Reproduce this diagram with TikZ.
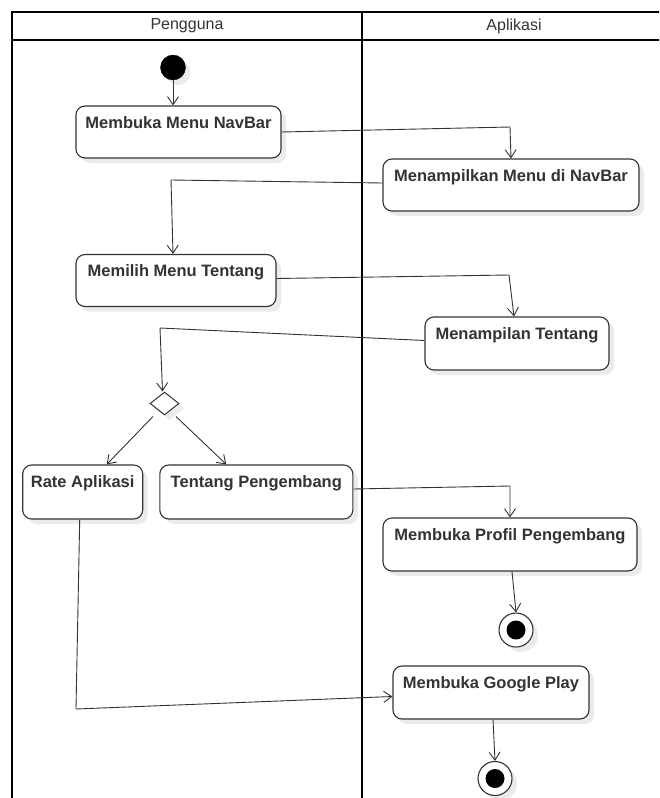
\documentclass[tikz,border=0pt]{standalone}
\usepackage{fontspec}
\setmainfont{Liberation Sans}
\usetikzlibrary{arrows.meta,shapes.geometric,shadows}
\definecolor{ink}{HTML}{333333}
\definecolor{shade}{HTML}{EBEBEB}
\begin{document}
\begin{tikzpicture}[x=1pt,y=-1pt,
  shd/.style={drop shadow={shadow xshift=5pt,shadow yshift=-5pt,fill=shade,opacity=1}},
  act/.style={draw=ink,line width=1.1pt,rounded corners=9pt,fill=white,shd,inner sep=0pt},
  lbl/.style={font=\bfseries\fontsize{16.5}{18}\selectfont,text=ink,anchor=base,inner sep=0pt},
  head/.style={font=\fontsize{16}{18}\selectfont,text=ink},
  flow/.style={draw=ink,line width=0.9pt,-{Straight Barb[length=8pt,width=11pt,line width=0.9pt]}},
  lane/.style={draw=black,line width=2.5pt},
  initst/.style={circle,fill=black,draw=black,minimum size=25pt,inner sep=0pt,shd},
  finst/.style={circle,fill=white,draw=ink,line width=1.1pt,minimum size=34pt,inner sep=0pt,shd},
  decis/.style={diamond,draw=ink,line width=1pt,fill=white,minimum width=29pt,minimum height=23pt,inner sep=0pt,shd},
]
\useasboundingbox (0,0) rectangle (659,798);
\clip (0,0) rectangle (659,798);
% swimlanes
\draw[lane] (12,805) -- (12,12) -- (670,12);
\draw[lane] (12,40) -- (670,40);
\draw[lane] (362,12) -- (362,805);
\node[head] (h1) at (187,26) {Pengguna};
\node[head] (h2) at (514,26) {Aplikasi};

% nodes
\node[initst] (start) at (173,67.5) {};
\node[act,minimum width=205pt,minimum height=52pt] (nav) at (178.5,132) {};
\node[lbl] (nav-t) at ([yshift=-23pt]nav.north) {Membuka Menu NavBar};
\node[act,minimum width=256pt,minimum height=52pt] (menu) at (511,185) {};
\node[lbl] (menu-t) at ([yshift=-23pt]menu.north) {Menampilkan Menu di NavBar};
\node[act,minimum width=200pt,minimum height=52pt] (pilih) at (176,280.5) {};
\node[lbl] (pilih-t) at ([yshift=-23pt]pilih.north) {Memilih Menu Tentang};
\node[act,minimum width=184pt,minimum height=53pt] (tampil) at (517,343.5) {};
\node[lbl] (tampil-t) at ([yshift=-23pt]tampil.north) {Menampilan Tentang};
\node[decis] (dia) at (164.5,403.5) {};
\node[act,minimum width=120pt,minimum height=54pt] (rate) at (82.7,492) {};
\node[lbl] (rate-t) at ([yshift=-23pt]rate.north) {Rate Aplikasi};
\node[act,minimum width=193pt,minimum height=54pt] (tentang) at (256.3,492) {};
\node[lbl] (tentang-t) at ([yshift=-23pt]tentang.north) {Tentang Pengembang};
\node[act,minimum width=254pt,minimum height=53pt] (profil) at (510,544.5) {};
\node[lbl] (profil-t) at ([yshift=-23pt]profil.north) {Membuka Profil Pengembang};
\node[finst] (end1) at (516,630) {};
\fill[black] (end1.center) circle[radius=9.5pt];
\node[act,minimum width=196pt,minimum height=53pt] (google) at (491,692.5) {};
\node[lbl] (google-t) at ([yshift=-23pt]google.north) {Membuka Google Play};
\node[finst] (end2) at (495,778.5) {};
\fill[black] (end2.center) circle[radius=9.5pt];

% bend points
\coordinate (c1) at (510,127);
\coordinate (c2) at (171,180);
\coordinate (c3) at (509,275);
\coordinate (c4) at (160,328);
\coordinate (c5) at (510,486);
\coordinate (c6) at (76,709);

% connectors
\draw[flow] (start.south) -- (start.south |- nav.north);
\draw[flow] (nav.east) -- (c1) -- (menu.north);
\draw[flow] ([yshift=2pt]menu.west) -- (c2) -- ([xshift=-3pt]pilih.north);
\draw[flow] ([yshift=2pt]pilih.east) -- (c3) -- ([xshift=-3pt]tampil.north);
\draw[flow] ([yshift=3pt]tampil.west) -- (c4) -- ([xshift=-2pt]dia.north);
\draw[flow] ([xshift=-4pt,yshift=-7pt]dia.south west) -- ([xshift=24pt]rate.north);
\draw[flow] ([xshift=4pt,yshift=-7pt]dia.south east) -- ([xshift=-30pt]tentang.north);
\draw[flow] ([yshift=3pt]tentang.east) -- (c5) -- (profil.north);
\draw[flow] ([xshift=2pt]profil.south) -- (end1.north);
\draw[flow] ([xshift=-3pt]rate.south) -- (c6) -- ([yshift=-4pt]google.west);
\draw[flow] ([xshift=2pt]google.south) -- (end2.north);
\end{tikzpicture}
\end{document}
